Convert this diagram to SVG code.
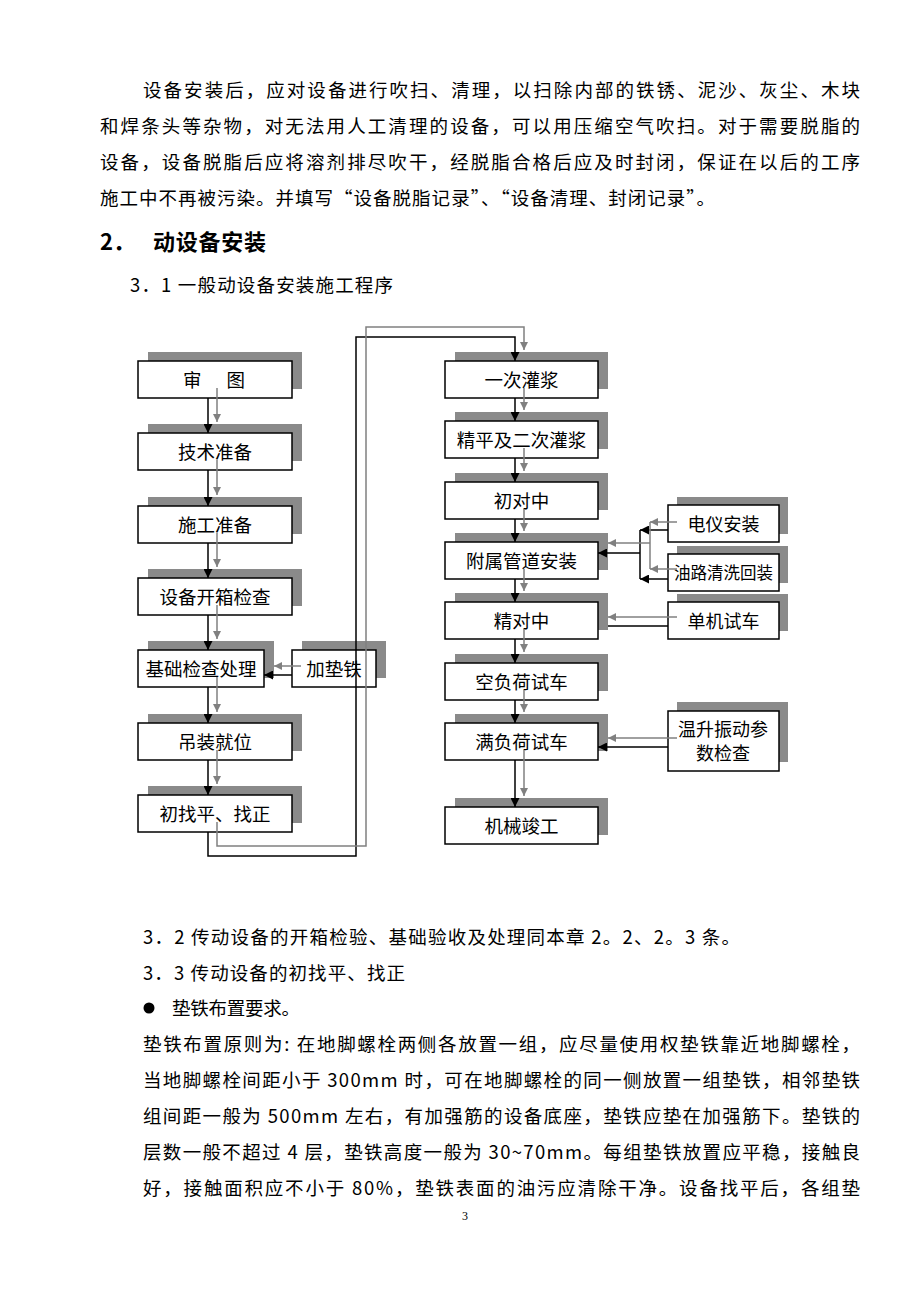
<svg xmlns="http://www.w3.org/2000/svg" width="920" height="1302" viewBox="0 0 920 1302">
<style>
.t{font-family:"Noto Sans CJK SC","Liberation Serif",sans-serif;font-size:18.5px;fill:#000}
.bx{font-family:"Noto Sans CJK SC",sans-serif;font-size:18.5px;fill:#000;text-anchor:middle}
.sh{fill:#8a8a8a}
.box{fill:#fff;stroke:#000;stroke-width:1.5}
.lb{fill:none;stroke:#000;stroke-width:1.5}
.lg{fill:none;stroke:#808080;stroke-width:1.5}
</style>
<defs>
<marker id="ab" viewBox="0 0 10 10" refX="10" refY="5" markerWidth="9" markerHeight="9" markerUnits="userSpaceOnUse" orient="auto"><path d="M0,0L10,5L0,10z" fill="#000"/></marker>
<marker id="ag" viewBox="0 0 10 10" refX="10" refY="5" markerWidth="8" markerHeight="8" markerUnits="userSpaceOnUse" orient="auto"><path d="M0,0L10,5L0,10z" fill="#808080"/></marker>
</defs>
<rect width="920" height="1302" fill="#fff"/>

<g id="body-top">
<text class="t" x="143" y="97" textLength="717" lengthAdjust="spacing">设备安装后，应对设备进行吹扫、清理，以扫除内部的铁锈、泥沙、灰尘、木块</text>
<text class="t" x="100" y="133" textLength="760" lengthAdjust="spacing">和焊条头等杂物，对无法用人工清理的设备，可以用压缩空气吹扫。对于需要脱脂的</text>
<text class="t" x="100" y="169" textLength="760" lengthAdjust="spacing">设备，设备脱脂后应将溶剂排尽吹干，经脱脂合格后应及时封闭，保证在以后的工序</text>
<text class="t" x="100" y="205" textLength="615" lengthAdjust="spacing">施工中不再被污染。并填写“设备脱脂记录”、“设备清理、封闭记录”。</text>
<text class="t" x="100" y="250" style="font-size:22px;font-weight:bold">2．</text>
<text class="t" x="153" y="250" textLength="113" lengthAdjust="spacing" style="font-size:22px;font-weight:bold">动设备安装</text>
<text class="t" x="130" y="292" textLength="263" lengthAdjust="spacing">3．1 一般动设备安装施工程序</text>
</g>

<g id="n-shentu"><rect class="sh" x="148" y="352" width="154" height="37"/><rect class="box" x="138" y="361" width="154" height="37"/><text class="t" x="183" y="387" textLength="62" lengthAdjust="spacing">审　图</text></g>
<g id="n-jishu"><rect class="sh" x="148" y="424" width="154" height="37"/><rect class="box" x="138" y="433" width="154" height="37"/><text class="bx" x="215" y="459">技术准备</text></g>
<g id="n-shigong"><rect class="sh" x="148" y="497" width="154" height="37"/><rect class="box" x="138" y="506" width="154" height="37"/><text class="bx" x="215" y="532">施工准备</text></g>
<g id="n-kaixiang"><rect class="sh" x="148" y="569" width="154" height="37"/><rect class="box" x="138" y="578" width="154" height="37"/><text class="bx" x="215" y="604">设备开箱检查</text></g>
<g id="n-jichu"><rect class="sh" x="148" y="641" width="126" height="37"/><rect class="box" x="138" y="650" width="126" height="37"/><text class="bx" x="201" y="676">基础检查处理</text></g>
<g id="n-diantie"><rect class="sh" x="302" y="641" width="84" height="37"/><rect class="box" x="292" y="650" width="84" height="37"/><text class="bx" x="334" y="676">加垫铁</text></g>
<g id="n-diaozhuang"><rect class="sh" x="148" y="714" width="154" height="37"/><rect class="box" x="138" y="723" width="154" height="37"/><text class="bx" x="215" y="749">吊装就位</text></g>
<g id="n-chuzhao"><rect class="sh" x="148" y="786" width="154" height="37"/><rect class="box" x="138" y="795" width="154" height="37"/><text class="bx" x="215" y="821">初找平、找正</text></g>

<g id="n-yici"><rect class="sh" x="455" y="352" width="153" height="37"/><rect class="box" x="445" y="361" width="153" height="37"/><text class="bx" x="521.5" y="387">一次灌浆</text></g>
<g id="n-jingping"><rect class="sh" x="455" y="412" width="153" height="37"/><rect class="box" x="445" y="421" width="153" height="37"/><text class="bx" x="521.5" y="447">精平及二次灌浆</text></g>
<g id="n-chuduizhong"><rect class="sh" x="455" y="473" width="153" height="37"/><rect class="box" x="445" y="482" width="153" height="37"/><text class="bx" x="521.5" y="508">初对中</text></g>
<g id="n-fushu"><rect class="sh" x="455" y="533" width="153" height="37"/><rect class="box" x="445" y="542" width="153" height="37"/><text class="bx" x="521.5" y="568">附属管道安装</text></g>
<g id="n-jingduizhong"><rect class="sh" x="455" y="593" width="153" height="37"/><rect class="box" x="445" y="602" width="153" height="37"/><text class="bx" x="521.5" y="628">精对中</text></g>
<g id="n-kongfuhe"><rect class="sh" x="455" y="654" width="153" height="37"/><rect class="box" x="445" y="663" width="153" height="37"/><text class="bx" x="521.5" y="689">空负荷试车</text></g>
<g id="n-manfuhe"><rect class="sh" x="455" y="714" width="153" height="37"/><rect class="box" x="445" y="723" width="153" height="37"/><text class="bx" x="521.5" y="749">满负荷试车</text></g>
<g id="n-jixie"><rect class="sh" x="455" y="798" width="153" height="37"/><rect class="box" x="445" y="807" width="153" height="37"/><text class="bx" x="521.5" y="833">机械竣工</text></g>

<g id="n-dianyi"><rect class="sh" x="677" y="497" width="111" height="37"/><rect class="box" x="668" y="505" width="111" height="37"/><text class="bx" x="723.5" y="531" style="font-size:18px">电仪安装</text></g>
<g id="n-youlu"><rect class="sh" x="677" y="546" width="111" height="37"/><rect class="box" x="668" y="554" width="111" height="37"/><text class="bx" x="723.5" y="579" style="font-size:16.5px">油路清洗回装</text></g>
<g id="n-danji"><rect class="sh" x="677" y="594" width="111" height="37"/><rect class="box" x="668" y="602" width="111" height="37"/><text class="bx" x="723.5" y="628" style="font-size:18px">单机试车</text></g>
<g id="n-wensheng"><rect class="sh" x="677" y="702" width="111" height="60"/><rect class="box" x="668" y="711" width="111" height="60"/><text class="bx" x="723" y="736" style="font-size:18px">温升振动参</text><text class="bx" x="723" y="760" style="font-size:18px">数检查</text></g>

<g id="connectors">
<path class="lb" marker-end="url(#ab)" d="M208,398V433"/>
<path class="lb" marker-end="url(#ab)" d="M208,470V506"/>
<path class="lb" marker-end="url(#ab)" d="M208,543V578"/>
<path class="lb" marker-end="url(#ab)" d="M208,615V650"/>
<path class="lb" marker-end="url(#ab)" d="M208,687V723"/>
<path class="lb" marker-end="url(#ab)" d="M208,760V795"/>
<path class="lg" marker-end="url(#ag)" d="M217,388V422"/>
<path class="lg" marker-end="url(#ag)" d="M217,460V495"/>
<path class="lg" marker-end="url(#ag)" d="M217,533V567"/>
<path class="lg" marker-end="url(#ag)" d="M217,605V639"/>
<path class="lg" marker-end="url(#ag)" d="M217,677V712"/>
<path class="lg" marker-end="url(#ag)" d="M217,750V784"/>
<path class="lb" marker-end="url(#ab)" d="M208,832V856H356V337H515V361"/>
<path class="lg" marker-end="url(#ag)" d="M217,822V846H366V327H524V350"/>
<path class="lb" marker-end="url(#ab)" d="M515,398V421"/>
<path class="lb" marker-end="url(#ab)" d="M515,458V482"/>
<path class="lb" marker-end="url(#ab)" d="M515,519V542"/>
<path class="lb" marker-end="url(#ab)" d="M515,579V602"/>
<path class="lb" marker-end="url(#ab)" d="M515,639V663"/>
<path class="lb" marker-end="url(#ab)" d="M515,700V723"/>
<path class="lb" marker-end="url(#ab)" d="M515,760V807"/>
<path class="lg" marker-end="url(#ag)" d="M524,388V410"/>
<path class="lg" marker-end="url(#ag)" d="M524,448V471"/>
<path class="lg" marker-end="url(#ag)" d="M524,509V531"/>
<path class="lg" marker-end="url(#ag)" d="M524,569V591"/>
<path class="lg" marker-end="url(#ag)" d="M524,629V652"/>
<path class="lg" marker-end="url(#ag)" d="M524,690V712"/>
<path class="lg" marker-end="url(#ag)" d="M524,750V796"/>
<path class="lb" marker-end="url(#ab)" d="M292,675H264"/>
<path class="lg" marker-end="url(#ag)" d="M301,666H274"/>
<path class="lb" marker-end="url(#ab)" d="M668,530H640"/>
<path class="lb" marker-end="url(#ab)" d="M668,579H640"/>
<path class="lb" d="M640,530V579"/>
<path class="lb" marker-end="url(#ab)" d="M640,553H598"/>
<path class="lg" marker-end="url(#ag)" d="M677,522H650"/>
<path class="lg" marker-end="url(#ag)" d="M677,569H650"/>
<path class="lg" d="M650,522V569"/>
<path class="lg" marker-end="url(#ag)" d="M650,543H608"/>
<path class="lg" marker-end="url(#ag)" d="M677,617H608"/>
<path class="lb" d="M668,626H608"/>
<path class="lg" marker-end="url(#ag)" d="M677,738H608"/>
<path class="lb" marker-end="url(#ab)" d="M668,747H598"/>
</g>

<g id="body-bottom">
<text class="t" x="143" y="944" textLength="597" lengthAdjust="spacing">3．2 传动设备的开箱检验、基础验收及处理同本章 2。2、2。3 条。</text>
<text class="t" x="143" y="980" textLength="262" lengthAdjust="spacing">3．3 传动设备的初找平、找正</text>
<circle cx="149" cy="1008" r="5.5" fill="#000"/>
<text class="t" x="172" y="1015" textLength="128" lengthAdjust="spacing">垫铁布置要求。</text>
<text class="t" x="143" y="1051" textLength="717" lengthAdjust="spacing">垫铁布置原则为: 在地脚螺栓两侧各放置一组，应尽量使用权垫铁靠近地脚螺栓，</text>
<text class="t" x="143" y="1087" textLength="717" lengthAdjust="spacing">当地脚螺栓间距小于 300mm 时，可在地脚螺栓的同一侧放置一组垫铁，相邻垫铁</text>
<text class="t" x="143" y="1123" textLength="717" lengthAdjust="spacing">组间距一般为 500mm 左右，有加强筋的设备底座，垫铁应垫在加强筋下。垫铁的</text>
<text class="t" x="143" y="1159" textLength="717" lengthAdjust="spacing">层数一般不超过 4 层，垫铁高度一般为 30~70mm。每组垫铁放置应平稳，接触良</text>
<text class="t" x="143" y="1195" textLength="717" lengthAdjust="spacing">好，接触面积应不小于 80%，垫铁表面的油污应清除干净。设备找平后，各组垫</text>
<text x="462" y="1220" style="font-family:'Liberation Serif',serif;font-size:12px">3</text>
</g>
</svg>
